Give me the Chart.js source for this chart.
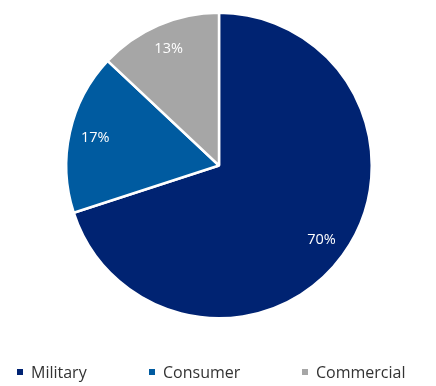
<!DOCTYPE html>
<html>
<head>
<meta charset="utf-8">
<script src="https://cdn.jsdelivr.net/npm/chart.js@4.4.0/dist/chart.umd.min.js"></script>
<style>
  html, body { margin: 0; padding: 0; background: #fff; }
  #wrap { position: relative; width: 436px; height: 386px; }
  #legend { position: absolute; left: 0; top: 361px; width: 436px; height: 22px; font: 16px "Open Sans", sans-serif; color: #333; }
  #legend span.item { position: absolute; top: 0; white-space: nowrap; }
  #legend span.box { display: inline-block; width: 6px; height: 6px; margin-right: 8px; vertical-align: 3px; }
</style>
</head>
<body>
<div id="wrap">
  <canvas id="pie" width="436" height="386"></canvas>
  <div id="legend"></div>
</div>
<script>
// Market share by segment
const segments = ["Military", "Consumer", "Commercial"];
const shares = [70, 17, 13];
const segmentColors = ["#002372", "#005BA0", "#A6A6A6"];
const legendX = [17, 149, 302];

// percent labels inside slices
const sliceLabels = {
  id: "sliceLabels",
  afterDatasetsDraw(chart) {
    const ctx = chart.ctx;
    const meta = chart.getDatasetMeta(0);
    ctx.save();
    ctx.fillStyle = "#ffffff";
    ctx.font = '14.5px "Open Sans", sans-serif';
    ctx.textAlign = "center";
    ctx.textBaseline = "middle";
    meta.data.forEach((arc, i) => {
      const p = arc.getProps(["x", "y", "startAngle", "endAngle", "outerRadius"], true);
      const mid = (p.startAngle + p.endAngle) / 2;
      const r = p.outerRadius * 0.83;
      ctx.fillText(shares[i] + "%", p.x + Math.cos(mid) * r, p.y + Math.sin(mid) * r);
    });
    ctx.restore();
  }
};

new Chart(document.getElementById("pie"), {
  type: "pie",
  data: {
    labels: segments,
    datasets: [{
      data: shares,
      backgroundColor: segmentColors,
      borderColor: "#ffffff",
      borderWidth: 2.5,
    }],
  },
  options: {
    responsive: false,
    animation: false,
    layout: { padding: { top: 10, bottom: 65, left: 65, right: 63 } },
    plugins: { legend: { display: false }, tooltip: { enabled: false } },
  },
  plugins: [sliceLabels],
});

const legend = document.getElementById("legend");
segments.forEach((s, i) => {
  const it = document.createElement("span");
  it.className = "item";
  it.style.left = legendX[i] + "px";
  it.innerHTML = `<span class="box" style="background:${segmentColors[i]}"></span>${s}`;
  legend.appendChild(it);
});
</script>
</body>
</html>
